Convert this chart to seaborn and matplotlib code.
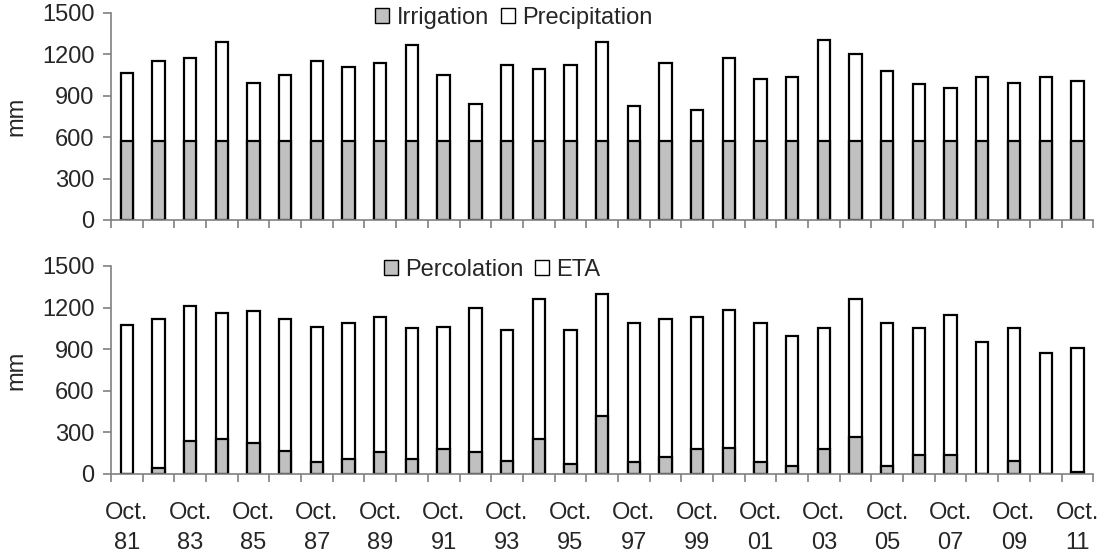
import numpy as np
import pandas as pd
import matplotlib
matplotlib.use("Agg")
import matplotlib.pyplot as plt
from matplotlib.patches import Patch
import seaborn as sns

years = ["81", "82", "83", "84", "85", "86", "87", "88", "89", "90", "91", "92",
         "93", "94", "95", "96", "97", "98", "99", "00", "01", "02", "03", "04",
         "05", "06", "07", "08", "09", "10", "11"]
irrigation = [575] * 31
precipitation = [490, 575, 600, 715, 420, 475, 575, 535, 560, 690, 477, 265,
                 545, 520, 545, 715, 253, 560, 225, 600, 450, 460, 730, 630,
                 505, 410, 380, 460, 420, 460, 435]
percolation = [0, 40, 240, 250, 225, 165, 84, 110, 155, 110, 180, 155,
               95, 250, 70, 420, 84, 125, 180, 190, 85, 55, 180, 265,
               55, 140, 140, 0, 95, 0, 12]
eta = [1075, 1080, 975, 910, 950, 955, 975, 980, 975, 940, 880, 1045,
       940, 1010, 965, 880, 1005, 995, 950, 995, 1005, 940, 870, 995,
       1035, 910, 1005, 950, 955, 870, 898]
yticks = [0, 300, 600, 900, 1200, 1500]

sns.set_theme(style="white")
plt.rcParams["font.family"] = ["Liberation Sans", "DejaVu Sans"]

df = pd.DataFrame({"year": years, "irr": irrigation, "prec": precipitation,
                   "perc": percolation, "eta": eta})
df["top_total"] = df["irr"] + df["prec"]
df["bot_total"] = df["perc"] + df["eta"]

fig = plt.figure(figsize=(11.12, 5.53), dpi=100)
ax1 = fig.add_axes([0.0998, 0.6022, 0.8833, 0.3743])
ax2 = fig.add_axes([0.0998, 0.1429, 0.8833, 0.3761])

grey = "#c0c0c0"
axis_col = "#808080"
FS = 17


def panel(ax, lower_col, total_col, lab_lower, lab_upper, show_labels, leg_xy):
    sns.barplot(data=df, x="year", y=total_col, order=years, color="white",
                edgecolor="black", linewidth=1.6, width=0.39, saturation=1,
                ax=ax, errorbar=None)
    sns.barplot(data=df, x="year", y=lower_col, order=years, color=grey,
                edgecolor="black", linewidth=1.6, width=0.39, saturation=1,
                ax=ax, errorbar=None)
    ax.set_xlim(-0.5, len(years) - 0.5)
    ax.set_ylim(0, 1500)
    ax.set_yticks(yticks)
    ax.set_yticklabels([str(v) for v in yticks], fontsize=FS)
    ax.set_ylabel("mm", fontsize=FS)
    ax.yaxis.set_label_coords(-0.085, 0.5)
    ax.set_xlabel("")
    for s in ["top", "right"]:
        ax.spines[s].set_visible(False)
    for s in ["left", "bottom"]:
        ax.spines[s].set_color(axis_col)
        ax.spines[s].set_linewidth(1.2)
    ax.tick_params(axis="y", direction="out", length=6, color=axis_col,
                   width=1.2, left=True, pad=6)
    # category boundary ticks
    ax.set_xticks(np.arange(-0.5, len(years), 1.0), minor=True)
    ax.tick_params(axis="x", which="minor", direction="out", length=6,
                   color=axis_col, width=1.2, bottom=True)
    idx = list(range(0, len(years), 2))
    ax.set_xticks(idx)
    if show_labels:
        ax.set_xticklabels(["Oct.\n" + years[i] for i in idx], fontsize=FS,
                           linespacing=1.5)
    else:
        ax.set_xticklabels([])
    ax.tick_params(axis="x", which="major", length=0, pad=20)
    handles = [Patch(facecolor=grey, edgecolor="black", linewidth=1.0, label=lab_lower),
               Patch(facecolor="white", edgecolor="black", linewidth=1.0, label=lab_upper)]
    ax.legend(handles=handles, loc="center", bbox_to_anchor=leg_xy,
              ncol=2, frameon=False, fontsize=FS, handlelength=0.6,
              handleheight=0.6, handletextpad=0.3, columnspacing=0.5,
              borderaxespad=0, borderpad=0)
    ax.grid(False)


panel(ax1, "irr", "top_total", "Irrigation", "Precipitation", False, (0.41, 0.975))
panel(ax2, "perc", "bot_total", "Percolation", "ETA", True, (0.388, 0.98))

fig.savefig("out.png", dpi=100)
